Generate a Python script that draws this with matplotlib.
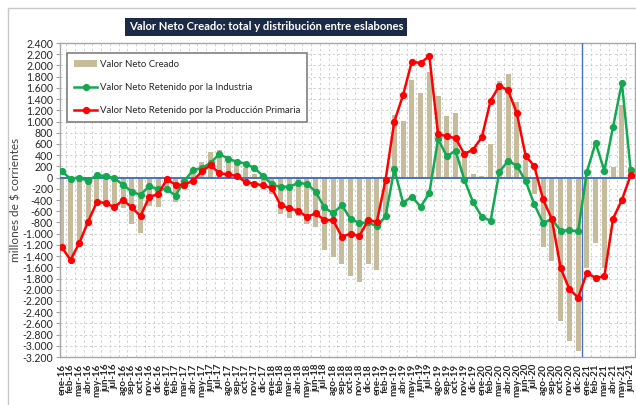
import numpy as np
import matplotlib
matplotlib.use('Agg')
import matplotlib.pyplot as plt
from matplotlib.patches import Rectangle, Patch
from matplotlib.lines import Line2D

months = ['ene-16', 'feb-16', 'mar-16', 'abr-16', 'may-16', 'jun-16', 'jul-16', 'ago-16', 'sep-16', 'oct-16', 'nov-16', 'dic-16',
          'ene-17', 'feb-17', 'mar-17', 'abr-17', 'may-17', 'jun-17', 'jul-17', 'ago-17', 'sep-17', 'oct-17', 'nov-17', 'dic-17',
          'ene-18', 'feb-18', 'mar-18', 'abr-18', 'may-18', 'jun-18', 'jul-18', 'ago-18', 'sep-18', 'oct-18', 'nov-18', 'dic-18',
          'ene-19', 'feb-19', 'mar-19', 'abr-19', 'may-19', 'jun-19', 'jul-19', 'ago-19', 'sep-19', 'oct-19', 'nov-19', 'dic-19',
          'ene-20', 'feb-20', 'mar-20', 'abr-20', 'may-20', 'jun-20', 'jul-20', 'ago-20', 'sep-20', 'oct-20', 'nov-20', 'dic-20',
          'ene-21', 'feb-21', 'mar-21', 'abr-21', 'may-21', 'jun-21']

valor_neto_creado = [-1180, -1480, -1170, -850, -410, -420, -545, -540, -830, -990, -500, -520,
                     -250, -440, -200, 70, 280, 450, 490, 390, 310, 170, 60, -110,
                     -300, -650, -720, -680, -820, -880, -1290, -1410, -1550, -1750, -1860, -1540,
                     -1650, -720, 1120, 1010, 1740, 1510, 1880, 1450, 1100, 1160, 390, 60,
                     20, 600, 1730, 1840, 1340, 320, -300, -1230, -1480, -2550, -2920, -3100,
                     -1620, -1170, -1620, 180, 1300, 180]

industria = [110, -20, 0, -60, 40, 30, -10, -130, -250, -310, -150, -210,
             -210, -320, -60, 130, 170, 260, 420, 340, 280, 250, 170, 30,
             -120, -170, -160, -100, -110, -250, -530, -640, -490, -740, -810, -800,
             -870, -690, 150, -450, -340, -520, -280, 690, 380, 480, -40, -440,
             -700, -770, 100, 300, 210, -60, -480, -810, -740, -950, -940, -960,
             100, 620, 120, 910, 1690, 140]

primaria = [-1240, -1470, -1170, -790, -440, -450, -530, -400, -530, -690, -340, -300,
            -30, -130, -125, -60, 110, 220, 80, 55, 30, -80, -110, -140,
            -190, -490, -550, -590, -700, -640, -755, -760, -1055, -1000, -1045, -760,
            -790, -40, 1000, 1470, 2070, 2040, 2170, 770, 740, 700, 420, 500,
            720, 1370, 1640, 1555, 1145, 390, 200, -390, -740, -1610, -1990, -2140,
            -1700, -1790, -1760, -730, -400, 40]

yticks = list(range(-3200, 2401, 200))
title = 'Valor Neto Creado: total y distribución entre eslabones'
labels = ['Valor Neto Creado', 'Valor Neto Retenido por la Industria',
          'Valor Neto Retenido por la Producción Primaria']

plt.rcParams['font.family'] = ['Lato', 'DejaVu Sans']

W, H = 636, 405
fig = plt.figure(figsize=(W / 100, H / 100), dpi=100)
fig.patch.set_facecolor('white')
fig.patches.append(Rectangle((8 / W, -0.01), 1.05, 1 - 8 / H + 0.01, transform=fig.transFigure,
                             fill=False, ec='#C8C8C8', lw=1))

ax = fig.add_axes([60 / W, 1 - 357 / H, 575 / W, 314 / H])
x = np.arange(len(months))

bar_c = '#C6BB9B'
green_c = '#14A850'
red_c = '#FF0000'
blue_c = '#4472C4'
text_c = '#262626'

ax.bar(x, valor_neto_creado, width=0.57, color=bar_c, zorder=2)
ax.axhline(0, color=blue_c, lw=1.4, zorder=3)
ax.axvline(59.5, color=blue_c, lw=1.0, zorder=3)
ax.plot(x, industria, color=green_c, marker='o', ms=4.2, lw=1.8, zorder=4)
ax.plot(x, primaria, color=red_c, marker='o', ms=4.2, lw=1.8, zorder=5)

ax.set_xlim(-0.2, 65.5)
ax.set_ylim(-3200, 2400)
ax.set_yticks(yticks)
ax.set_yticklabels([f'{v:,.0f}'.replace(',', '.') for v in yticks], fontsize=7.6, color=text_c)
ax.set_xticks(x)
ax.set_xticklabels(months, rotation=90, fontsize=7, color=text_c, fontweight='bold')
ax.set_xticks(np.arange(0.5, 65.5, 1), minor=True)
ax.tick_params(axis='x', which='major', length=0, pad=5)
ax.tick_params(axis='x', which='minor', length=0)
ax.tick_params(axis='y', length=3, color='#A0A0A0', pad=2)

ax.set_axisbelow(True)
ax.yaxis.grid(True, ls=(0, (2.5, 2.5)), color='#D2D2D2', lw=0.7)
ax.xaxis.grid(True, which='minor', ls=(0, (2.5, 2.5)), color='#D2D2D2', lw=0.7)
ax.xaxis.grid(False, which='major')
for s in ax.spines.values():
    s.set_color('#A6A6A6')
    s.set_linewidth(1.0)

fig.text(16 / W, 1 - 200 / H, 'millones de $ corrientes', rotation=90, ha='center', va='center',
         fontsize=8.5, color='#404040')

fig.text(266 / W, 1 - 27 / H, title, ha='center', va='center', color='white', fontweight='bold',
         fontsize=8.1, bbox=dict(boxstyle='square,pad=0.35', fc='#1B2A45', ec='none'))

handles = [Patch(facecolor=bar_c, edgecolor='none'),
           Line2D([], [], color=green_c, marker='o', ms=4.2, lw=1.8),
           Line2D([], [], color=red_c, marker='o', ms=4.2, lw=1.8)]
leg = ax.legend(handles, labels, loc='upper left', bbox_to_anchor=(67 / W, 1 - 53 / H),
                bbox_transform=fig.transFigure, borderaxespad=0, fancybox=False,
                edgecolor='#7F7F7F', framealpha=1, fontsize=6.9, labelspacing=1.45,
                handlelength=2.4, handleheight=0.75, borderpad=0.75, handletextpad=0.25)
leg.get_frame().set_linewidth(1.2)
for t in leg.get_texts():
    t.set_color(text_c)

fig.savefig('out.png', dpi=100, facecolor='white')
